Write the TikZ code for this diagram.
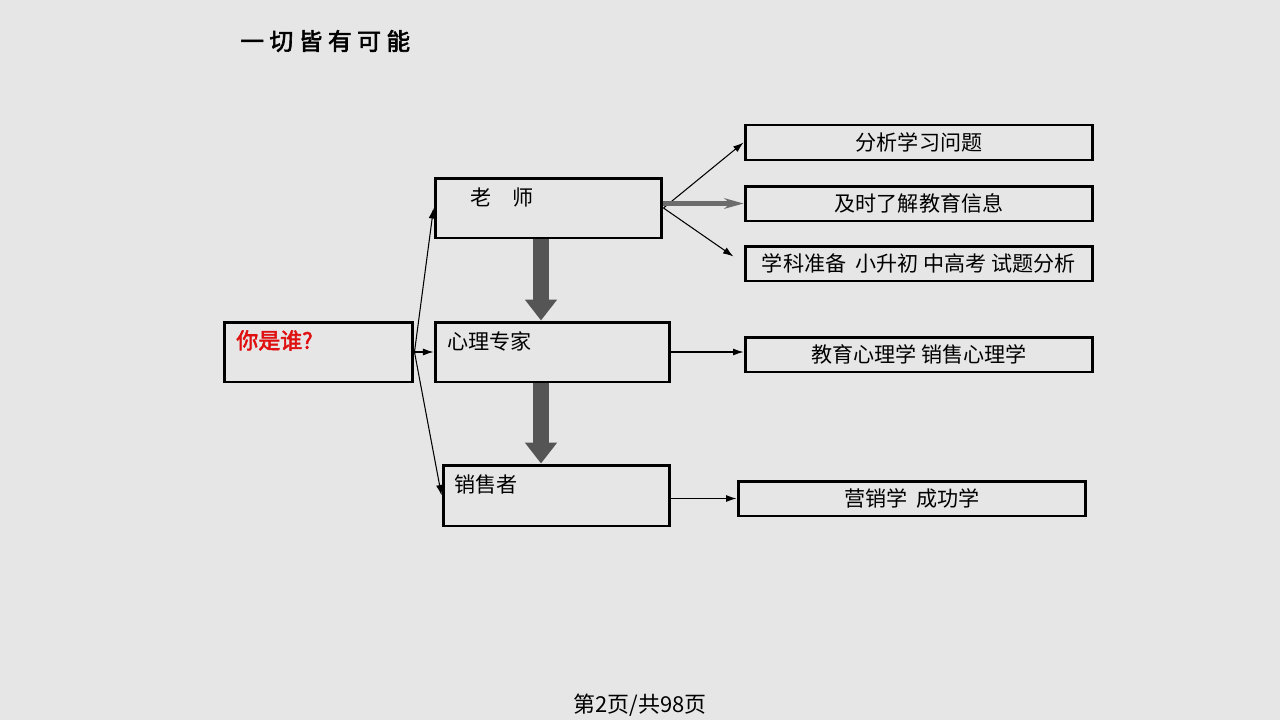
\documentclass[tikz,border=0pt]{standalone}
\usepackage{fontspec}
\setmainfont{Noto Sans CJK SC}
\newfontfamily\heavyfont[FakeBold=2.5]{Noto Sans CJK SC}
\usetikzlibrary{positioning}
\usetikzlibrary{arrows.meta}
\definecolor{slidebg}{HTML}{E6E6E6}
\definecolor{blockgray}{HTML}{555555}
\definecolor{whored}{HTML}{E01010}
\newcommand{\gap}{\hspace{0.11cm}}
\tikzset{
  box/.style            = { rectangle, draw=black, line width=1.7pt },
  role/.style           = { box, minimum height=1.2cm },
  topic/.style          = { box, minimum width=6.96cm, minimum height=0.7cm,
                            font=\fontsize{12}{14}\selectfont },
  tag/.style            = { anchor=north west, inner sep=0pt,
                            font=\fontsize{12}{14}\selectfont },
}
\tikzset{
  link/.style           = { draw=black, line width=0.6pt, -{Latex[length=6pt,width=4pt]} },
  feed/.style           = { draw=gray!85!black, line width=2.4pt, -{Stealth[length=11pt,width=6pt]} },
  step down/.style      = { draw=blockgray, line width=0.32cm, -{Triangle[width=0.62cm,length=0.42cm]} }
}
\begin{document}
\begin{tikzpicture}[x=0.02cm, y=-0.02cm]
  \fill[slidebg] (0,0) rectangle (1280,720);
  \useasboundingbox (0,0) rectangle (1280,720);

  \node (title) [anchor=west, inner sep=0pt, font=\heavyfont\fontsize{13.5}{16}\selectfont]
    at (240,41) {一\gap 切\gap 皆\gap 有\gap 可\gap 能};

  % left column
  \node (who) [role, minimum width=3.78cm] at (318.5,352)
    {}; \node (whotext) [tag, text=whored, font=\heavyfont\fontsize{12.5}{14}\selectfont]
    at (236,330) {你是谁?};

  % middle column
  \node (teacher) [role, minimum width=4.54cm] at (548.5,208) {};
  \node (teachertext) [tag] at (470,187) {老　师};
  \node (psych) [role, minimum width=4.70cm] at (552.5,352) {};
  \node (psychtext) [tag] at (447,331) {心理专家};
  \node (sales) [role, minimum width=4.54cm, minimum height=1.22cm] at (556.5,495.5) {};
  \node (salestext) [tag] at (454,474) {销售者};

  % right column
  \node (study)   [topic] at (919,142.5) {分析学习问题};
  \node (news)    [topic] at (919,203.5) {及时了解教育信息};
  \node (exam)    [topic] at (919,263.5) {学科准备\ \ 小升初 中高考 试题分析};
  \node (mind)    [topic] at (919,354.5) {教育心理学 销售心理学};
  \node (market)  [topic] at (912,498.5) {营销学\ \ 成功学};

  \node (pageno) [font=\fontsize{12.5}{14}\selectfont] at (640,705) {第2页/共98页};

  \draw [link] (who.east) -- (teacher.west);
  \draw [link] (who.east) -- (psych.west);
  \draw [link] (who.east) -- (sales.west);

  \draw [link] (teacher.east) -- (study.west);
  \draw [feed] (teacher.east |- news.west) -- (news.west);
  \draw [link, shorten >=7pt] (teacher.east) -- (exam.west);
  \draw [link] (psych.east) -- (psych.east -| mind.west);
  \draw [link] (sales.east |- market.west) -- (market.west);

  \draw [step down] ([xshift=-0.15cm]teacher.south) -- ([xshift=-0.15cm]teacher.south |- psych.north);
  \draw [step down] ([xshift=-0.23cm]psych.south) -- ([xshift=-0.23cm]psych.south |- sales.north);
\end{tikzpicture}
\end{document}
